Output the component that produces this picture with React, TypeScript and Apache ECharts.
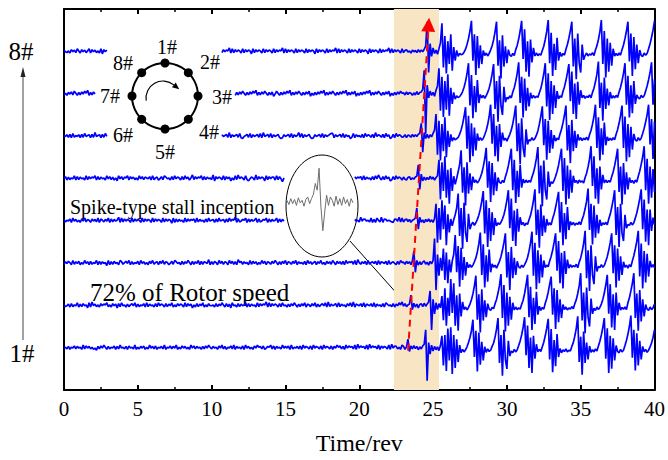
import { useEffect, useRef } from 'react';
import * as echarts from 'echarts';

const FONT = '"Liberation Serif", "Times New Roman", Times, serif';

const SENSORS = ['1#', '2#', '3#', '4#', '5#', '6#', '7#', '8#'];

const SAMPLE_STEP = 0.1; // rev per sample
const EVENT_START = 23.0; // rev where the event records begin
const TRACE_SPACING = 100; // signal units between neighbouring sensor baselines
const QUIET_GAIN = 1.7; // signal units per digit in the quiet records

// shaded window of stall inception, rev
const INCEPTION_WINDOW = [22.35, 25.4];
// spike propagation path, [rev, sensor level] from 1# to 8#
const SPIKE_PATH = [
  [23.31, -0.07],
  [24.7, 7.63],
];

// pre-stall pressure records (0-23 rev), one digit per sample, 4.5 = mean
const quiet1 =
  '45362547364528374635241637485263547263845362745382' +
  '53647253846372546382547364825374635284736452637485' +
  '36452748362547382645372846352748563724658372645384' +
  '64728354637284653728465372846537264857362847563829' +
  '47563829475638274653829476352847563928475638294756';
const quiet2 =
  '53462735482637451829463527465835274617384526357482' +
  '63547283645273846527364825374652837461527364825374' +
  '45273648527361845273645827364528374659283746527384' +
  '52637485263748265374826357482936457283645274839265' +
  '47382654738264537286453726485927364852736458372645';
const quiet3 =
  '36475283647253846273548273645182637452863574826354' +
  '72846352748356274836524738645273648527364827365492' +
  '63752847365284736295736452837462538472653748526374' +
  '82653748264537284635726483527463852746372846573829' +
  '53647283564728365472835642738564728356472836475284';
const quiet4 =
  '63547284635274836527463827536482736459283746528374' +
  '65283746528374652837465182736452837465728364527384' +
  '56273845627384659273465827364582734658273645827364' +
  '58372645837264538276459372615837264583726453827645' +
  '39476453826285392764543276493827645362864538176453';
const quiet5 =
  '47263548273645283746582736452847362518473658274635' +
  '28473654728356247386452738465273846259374658273645' +
  '39174653827461528394652831465293746518374662837405' +
  '28374950283746592837465213746518374622837465483746' +
  '57283645273849527384612738465293846527384152738465';
const quiet6 =
  '54637283546273845627394562738456278495627384562738' +
  '84592738456213845627938456237485627384592736456273' +
  '46573826457392645738214573826457382945738264573126' +
  '45738264593826457312645738264578826457382645138264' +
  '53728465372946537284613728465372846597284653728465';
const quiet7 =
  '35264738526374859263748526173849526374852637485263' +
  '74859263748152637485926374852637418526374859263748' +
  '52637485926374152637485263748592637485263714852637' +
  '48592637485263748152637485926374852637485926374815' +
  '26374859263748526374815263748592637485263748592637';
const quiet8 =
  '64352746385274635827463528174635283746528374615283' +
  '74652837465283746592837465283746528374651283746528' +
  '37465283746592837465283746518374652837465283746592' +
  '83746528374652837465183746528374659283746528374652' +
  '83746518374652837465928374652837465283746518374652';

// event records from 23 rev, signal units (100 = spacing between traces):
// inception spike, stall onset, then one row per rotating-stall cycle
const event1 = [
  3, -4, 2,
  20, -9, 4, -3, 5, -2, 3, -5, 2, -3, 4, 8,
  42, -78, 12, -15, 6, -8, 3, -5, 2, -7, 5, 28, -42, 30, -55,
  45, -30, 48, -62, 30, -48, 20, -34, 6, -12, -4, -10, -5, 2, 12, 24, 40,
  66, -22, 40, -56, 36, -40, 14, -30, 2, -11, -3, -9, -6, 3, 11, 25, 44,
  70, -36, 30, -66, 42, -28, -50, 16, -20, -8, -12, -4, -10, -5, 5, 16, 30, 48,
  72, -18, 52, -48, 24, -60, 28, -26, 8, -10, -4, -9, 2, 13, 28, 46,
  68, -28, 44, -58, 18, -44, 32, -22, -2, -12, -5, -9, -3, -10, -6, -8, 3, 12, 27, 45,
  74, -34, 26, -64, 38, -36, 12, -28, 4, -11, -5, -10, -3, -8, 4, 15, 30, 48,
  70, -26, 46, -60, 28, -50, 22, -30, 5, -9, -12, -4, -10, -6, 5, 17, 32, 50,
  76, -24, 42, -54, 34, -42, 16, -28, 3, -10, -4, -11, -6, 2, 11, 24, 42,
];
const event2 = [
  -2, 4, -3, 1, 3,
  24, -10, 5, -4, 3, -6, 2, 4, -3, 5, -2, 3, 8,
  34, -58, 14, -20, 6, -10, 4, -6, 22, -35, 40, -48, 18, -25,
  62, -18, 52, -48, 24, -60, 28, -26, 8, -10, -4, -11, -5, 3, 13, 27, 46,
  70, -34, 26, -64, 38, -36, 12, -28, 4, -9, -12, -5, -8, 4, 14, 29, 47,
  74, -30, 48, -62, 30, -48, 20, -34, 6, -11, -4, -10, -6, -9, 2, 12, 28, 48,
  72, -28, 44, -58, 18, -44, 32, -22, -2, -12, -5, -9, 5, 16, 31, 50,
  68, -22, 40, -56, 36, -40, 14, -30, 2, -10, -4, -11, -6, -9, -3, -8, 4, 13, 28, 46,
  76, -36, 30, -66, 42, -28, -50, 16, -20, -7, -12, -4, -10, -5, 3, 14, 29, 48,
  72, -20, 50, -52, 26, -58, 30, -24, 6, -11, -5, -9, -4, -10, 6, 18, 34, 52,
  76, -30, 28, -60, 36, -38, 14, -26, 2, -9, -12, -4, -10, -6, 3,
];
const event3 = [
  2, -3, 4, -1, 3, -4, 5,
  28, -22, 6, -5, 3, -4, 2, 5, -3, 2, -5, 4, -2, 6,
  58, -64, 20, -30, 12, -18, 34, -40, 25, -48, 8, -22, 5, 20,
  66, -22, 40, -56, 36, -40, 14, -30, 2, -11, -4, -10, -5, 3, 12, 26, 45,
  72, -28, 44, -58, 18, -44, 32, -22, -2, -10, -5, -12, -4, 4, 15, 30, 48,
  70, -34, 26, -64, 38, -36, 12, -28, 4, -9, -12, -5, -10, -4, 3, 13, 28, 47,
  74, -30, 48, -62, 30, -48, 20, -34, 6, -11, -5, -9, 5, 16, 30, 49,
  70, -18, 52, -48, 24, -60, 28, -26, 8, -12, -4, -10, -6, -9, -3, -11, 2, 12, 27, 46,
  76, -36, 30, -66, 42, -28, -50, 16, -20, -8, -11, -4, -10, -6, 4, 15, 30, 48,
  70, -24, 42, -58, 34, -42, 16, -28, 3, -10, -5, -12, -4, -9, 5, 17, 33, 51,
  76, -32, 46, -60, 28, -46, 22, -32, 5, -10, -4, -11,
];
const event4 = [
  -3, 2, 4, -2, 3, -4, 1, 3, 6,
  30, -20, 8, -4, 2, -5, 3, -2, 4, -3, 2, -4, 5,
  40, -52, 30, -45, 48, -20, 36, -58, 15, -28, 4, -12, 2, 14, 30,
  64, -36, 30, -66, 42, -28, -50, 16, -20, -9, -4, -11, -5, 3, 13, 27, 46,
  70, -30, 48, -62, 30, -48, 20, -34, 6, -12, -5, -9, -4, 4, 14, 29, 48,
  72, -18, 52, -48, 24, -60, 28, -26, 8, -10, -4, -12, -6, -9, 2, 12, 28, 47,
  74, -34, 26, -64, 38, -36, 12, -28, 4, -11, -5, -10, 5, 16, 31, 49,
  68, -28, 44, -58, 18, -44, 32, -22, -2, -10, -4, -11, -6, -9, -3, -10, 3, 13, 28, 46,
  76, -22, 40, -56, 36, -40, 14, -30, 2, -12, -5, -9, -4, -10, 4, 15, 31, 49,
  72, -34, 32, -62, 40, -30, -48, 14, -18, -9, -11, -4, -10, -5, 6, 18, 34, 52,
  74, -20, 50, -50, 26, -58, 26, -24, 7, -10,
];
const event5 = [
  3, -2, -4, 2, 4, -3, 1, -2, 3, 5,
  32, -26, 10, -6, 3, -4, 2, -3, 5, -2, 3, -4, 2, 6,
  44, -50, 38, -30, 52, -46, 20, -60, 24, -30, 5, -14, 0, 16, 32,
  66, -34, 26, -64, 38, -36, 12, -28, 4, -10, -4, -11, -6, 2, 12, 27, 46,
  72, -22, 40, -56, 36, -40, 14, -30, 2, -9, -12, -5, -10, 4, 15, 30, 48,
  70, -28, 44, -58, 18, -44, 32, -22, -2, -11, -4, -10, -5, -9, 3, 13, 28, 47,
  74, -36, 30, -66, 42, -28, -50, 16, -20, -8, -12, -5, 5, 16, 31, 50,
  70, -30, 48, -62, 30, -48, 20, -34, 6, -10, -5, -12, -4, -9, -6, -11, 2, 12, 27, 46,
  76, -18, 52, -48, 24, -60, 28, -26, 8, -11, -4, -10, -5, -9, 4, 15, 30, 48,
  70, -32, 28, -62, 36, -38, 14, -26, 2, -10, -5, -12, -4, -9, 5, 17, 33, 51,
  76, -28, 46, -60, 28, -46, 22, -32,
];
const event6 = [
  -2, 3, -4, 2, 1, -3, 4, -2, 3, -1, 4, 7,
  30, -38, 8, -6, 4, -5, 3, -2, 6, 14,
  52, -44, 36, -58, 28, -36, 44, -50, 12, -26, 4, -12, -4, -9, -6, -3, 4, 14, 28, 46,
  68, -30, 48, -62, 30, -48, 20, -34, 6, -11, -4, -10, -6, 3, 13, 27, 46,
  74, -18, 52, -48, 24, -60, 28, -26, 8, -10, -5, -12, -4, 4, 14, 29, 48,
  72, -36, 30, -66, 42, -28, -50, 16, -20, -9, -11, -4, -10, -6, 2, 12, 28, 47,
  70, -22, 40, -56, 36, -40, 14, -30, 2, -12, -5, -9, 5, 16, 31, 49,
  72, -34, 26, -64, 38, -36, 12, -28, 4, -10, -4, -11, -5, -9, -3, -10, 3, 13, 28, 46,
  74, -28, 44, -58, 18, -44, 32, -22, -2, -11, -5, -10, -4, -9, 4, 15, 30, 48,
  72, -28, 46, -60, 28, -50, 22, -32, 5, -9, -12, -4, -10, -5, 6, 18, 33, 50,
  74, -20, 40, -54, 34,
];
const event7 = [
  2, -3, 4, -2, 3, 1, -4, 2, -3, 5, -2, 3, 4, 10,
  55, -95, 20, -10, 6, -4, 3, -6, 8, 18,
  60, -40, 40, -55, 30, -38, 46, -52, 14, -24, 3, -13, -5, -9, -7, -2, 5, 15, 29, 47,
  72, -28, 44, -58, 18, -44, 32, -22, -2, -10, -4, -11, -5, 3, 13, 27, 46,
  70, -36, 30, -66, 42, -28, -50, 16, -20, -9, -12, -5, -10, 4, 14, 29, 48,
  74, -22, 40, -56, 36, -40, 14, -30, 2, -11, -4, -10, -6, -9, 2, 12, 28, 47,
  72, -30, 48, -62, 30, -48, 20, -34, 6, -12, -5, -9, 5, 16, 31, 49,
  70, -18, 52, -48, 24, -60, 28, -26, 8, -10, -4, -11, -6, -9, -3, -10, 3, 13, 28, 46,
  76, -34, 26, -64, 38, -36, 12, -28, 4, -11, -5, -10, -4, -9, 4, 15, 30, 48,
  72, -26, 42, -56, 20, -46, 30, -24, -3, -10, -12, -4, -9, -5, 6, 18, 33, 50,
  74, -26, 34,
];
const event8 = [
  -3, 2, 4, -2, 1, -4, 3, -1, 2, -3, 4, -2, 3, -1, 5, 12,
  70, -50, 18, -12, 8, -5, 3, -7, 6, 20,
  66, -38, 36, -52, 24, -30, 40, -46, 10, -22, 2, -12, -5, -8, -7, -2, 5, 16, 30, 48,
  72, -22, 40, -56, 36, -40, 14, -30, 2, -10, -4, -11, -5, 3, 13, 27, 46,
  70, -34, 26, -64, 38, -36, 12, -28, 4, -9, -12, -5, -10, 4, 14, 29, 48,
  72, -18, 52, -48, 24, -60, 28, -26, 8, -11, -4, -10, -6, -9, 2, 12, 28, 47,
  74, -28, 44, -58, 18, -44, 32, -22, -2, -12, -5, -9, 5, 16, 31, 49,
  70, -36, 30, -66, 42, -28, -50, 16, -20, -10, -4, -11, -6, -9, -3, -10, 3, 13, 28, 46,
  74, -30, 48, -62, 30, -48, 20, -34, 6, -11, -5, -10, -4, -9, 4, 15, 30, 48,
  70, -24, 42, -58, 34, -42, 16, -28, 3, -10, -12, -4, -9, -5, 6, 18, 33, 50,
  72,
];

// stretches where a trace is interrupted around annotations, rev
const gaps: [number, number][][] = [
  [],
  [],
  [],
  [[14.95, 19.65]],
  [[14.95, 19.65]],
  [[2.97, 10.7]],
  [[2.1, 11.6]],
  [[2.97, 10.7]],
];

// close-up of one spike-type disturbance, shown in the ellipse
const insetSpike = [
  2, -3, 4, -2, 3, -4, 5, -1, 2, -5, 3, 6, -2, 4, 9, 22, 14, 40, -6, -34,
  -12, 8, -4, 6, 2, -5, 7, -3, 4, -4, 6, -2, 3, -5, 4, -1,
];

const quietRecords = [quiet1, quiet2, quiet3, quiet4, quiet5, quiet6, quiet7, quiet8];
const eventRecords = [event1, event2, event3, event4, event5, event6, event7, event8];

const round2 = (v: number) => Math.round(v * 100) / 100;

function buildTrace(k: number): (number | string)[][] {
  const pts: [number, number][] = [];
  const q = quietRecords[k];
  for (let i = 0; i < q.length; i++) {
    const t = round2(i * SAMPLE_STEP);
    if (t >= EVENT_START) break;
    pts.push([t, (Number(q[i]) - 4.5) * QUIET_GAIN]);
  }
  eventRecords[k].forEach((v, i) => pts.push([round2(EVENT_START + i * SAMPLE_STEP), v]));
  return pts.map(([t, v]) => {
    const hidden = gaps[k].some(([a, b]) => t > a && t < b);
    return [t, hidden ? '-' : round2(k + v / TRACE_SPACING)];
  });
}

function textEl(text: string, x: number, y: number, size: number, align = 'center') {
  return {
    type: 'text',
    x,
    y,
    silent: true,
    style: {
      text,
      font: `${size}px ${FONT}`,
      fill: '#000',
      textAlign: align,
      textVerticalAlign: 'middle',
      align,
      verticalAlign: 'middle',
    },
  };
}

function ringGraphics() {
  const cx = 165;
  const cy = 96;
  const r = 33;
  const els: any[] = [
    {
      type: 'circle',
      shape: { cx, cy, r },
      style: { stroke: '#000', lineWidth: 2, fill: 'none' },
      silent: true,
    },
  ];
  for (let i = 0; i < 8; i++) {
    const a = -Math.PI / 2 + (i * Math.PI) / 4;
    els.push({
      type: 'circle',
      shape: { cx: cx + r * Math.cos(a), cy: cy + r * Math.sin(a), r: 4.5 },
      style: { fill: '#000' },
      silent: true,
    });
  }
  const labelPos: [number, number][] = [
    [167, 47],
    [210, 62],
    [222, 97],
    [209, 132],
    [165, 152],
    [123, 135],
    [110, 96],
    [123, 63],
  ];
  labelPos.forEach(([x, y], i) => els.push(textEl(SENSORS[i], x, y, 20)));

  // rotation-direction arrow inside the ring
  const acx = 163;
  const acy = 98;
  const ar = 17;
  const a0 = Math.PI * 0.95;
  const a1 = Math.PI * 1.72;
  els.push({
    type: 'arc',
    shape: { cx: acx, cy: acy, r: ar, startAngle: a0, endAngle: a1, clockwise: true },
    style: { stroke: '#000', lineWidth: 1.2, fill: 'none' },
    silent: true,
  });
  const ex = acx + ar * Math.cos(a1);
  const ey = acy + ar * Math.sin(a1);
  const tx = -Math.sin(a1);
  const ty = Math.cos(a1);
  els.push({
    type: 'polygon',
    shape: {
      points: [
        [ex + 7 * tx, ey + 7 * ty],
        [ex + 3 * ty, ey - 3 * tx],
        [ex - 3 * ty, ey + 3 * tx],
      ],
    },
    style: { fill: '#000' },
    silent: true,
  });
  return els;
}

export default function App() {
  const ref = useRef<HTMLDivElement>(null);

  useEffect(() => {
    if (!ref.current) return;
    const chart = echarts.init(ref.current, undefined, { renderer: 'svg' });

    const traceSeries = SENSORS.map((name, k) => ({
      name,
      type: 'line',
      xAxisIndex: 0,
      yAxisIndex: 0,
      data: buildTrace(k),
      showSymbol: false,
      symbol: 'none',
      connectNulls: false,
      silent: true,
      z: 3,
      lineStyle: { color: '#0000ff', width: 1.7 },
    }));

    const axisCommon = {
      type: 'value',
      min: 0,
      max: 40,
      interval: 5,
      gridIndex: 0,
      splitLine: { show: false },
      axisLine: { show: true, onZero: false, lineStyle: { color: '#000', width: 2 } },
      axisTick: { show: true, inside: true, length: 5, lineStyle: { color: '#000', width: 2 } },
      minorTick: { show: true, splitNumber: 2, length: 3, lineStyle: { color: '#000', width: 1.5 } },
      minorSplitLine: { show: false },
    };

    const yCommon = {
      type: 'value',
      min: -1,
      max: 8,
      gridIndex: 0,
      axisLine: { show: true, onZero: false, lineStyle: { color: '#000', width: 2 } },
      axisTick: { show: false },
      axisLabel: { show: false },
      splitLine: { show: false },
    };

    chart.setOption({
      animation: false,
      backgroundColor: '#fff',
      grid: [
        { left: 64, right: 12, top: 9, bottom: 63, containLabel: false },
        { left: 287, top: 164, width: 66, height: 76, containLabel: false },
      ],
      xAxis: [
        {
          ...axisCommon,
          position: 'bottom',
          axisLabel: { color: '#000', fontFamily: FONT, fontSize: 21, margin: 8 },
          name: 'Time/rev',
          nameLocation: 'middle',
          nameGap: 41,
          nameTextStyle: { color: '#000', fontFamily: FONT, fontSize: 24 },
        },
        { ...axisCommon, position: 'top', axisLabel: { show: false } },
        { type: 'value', gridIndex: 1, min: 0, max: insetSpike.length - 1, show: false },
      ],
      yAxis: [
        { ...yCommon, position: 'left' },
        { ...yCommon, position: 'right' },
        { type: 'value', gridIndex: 1, min: -45, max: 45, show: false },
      ],
      series: [
        {
          name: 'inception window',
          type: 'line',
          xAxisIndex: 0,
          yAxisIndex: 0,
          data: [
            [INCEPTION_WINDOW[0], -1],
            [INCEPTION_WINDOW[1], -1],
          ],
          showSymbol: false,
          symbol: 'none',
          silent: true,
          z: 1,
          lineStyle: { opacity: 0 },
          markArea: {
            silent: true,
            itemStyle: { color: '#F8E5C4' },
            data: [[{ xAxis: INCEPTION_WINDOW[0] }, { xAxis: INCEPTION_WINDOW[1] }]],
          },
        },
        ...traceSeries,
        {
          name: 'spike path',
          type: 'lines',
          coordinateSystem: 'cartesian2d',
          xAxisIndex: 0,
          yAxisIndex: 0,
          z: 5,
          silent: true,
          symbol: ['none', 'triangle'],
          symbolSize: 14,
          lineStyle: { color: '#ff0000', width: 2, type: [7, 5], opacity: 1 },
          data: [{ coords: SPIKE_PATH }],
        },
        {
          name: 'inset',
          type: 'line',
          xAxisIndex: 2,
          yAxisIndex: 2,
          data: insetSpike.map((v, i) => [i, v]),
          showSymbol: false,
          symbol: 'none',
          silent: true,
          z: 4,
          lineStyle: { color: '#6e6e6e', width: 1 },
        },
      ],
      graphic: [
        textEl('8#', 21, 51, 25),
        textEl('1#', 22, 353, 25),
        {
          type: 'line',
          shape: { x1: 23, y1: 340, x2: 23, y2: 74 },
          style: { stroke: '#444', lineWidth: 1 },
          silent: true,
        },
        {
          type: 'polygon',
          shape: {
            points: [
              [23, 67],
              [20.5, 77],
              [25.5, 77],
            ],
          },
          style: { fill: '#222' },
          silent: true,
        },
        ...ringGraphics(),
        textEl('Spike-type stall inception', 70, 207, 20, 'left'),
        textEl('72% of Rotor speed', 90, 292, 25, 'left'),
        {
          type: 'ellipse',
          shape: { cx: 322, cy: 206, rx: 36, ry: 51 },
          style: { stroke: '#000', lineWidth: 1, fill: 'none' },
          silent: true,
        },
        {
          type: 'line',
          shape: { x1: 350, y1: 241, x2: 408, y2: 306 },
          style: { stroke: '#000', lineWidth: 1 },
          silent: true,
        },
      ],
    });

    return () => chart.dispose();
  }, []);

  return (
    <div
      ref={ref}
      style={{ position: 'fixed', left: 0, top: 0, width: 668, height: 460, background: '#fff' }}
    />
  );
}
